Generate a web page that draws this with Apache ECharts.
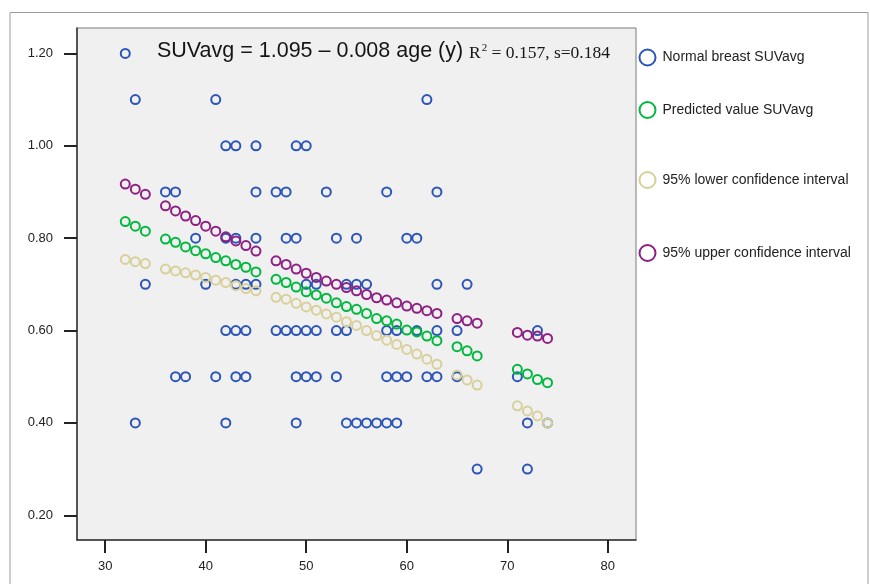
<!DOCTYPE html>
<html>
<head>
<meta charset="utf-8">
<script src="https://cdn.jsdelivr.net/npm/echarts@6/dist/echarts.min.js"></script>
<style>
html,body{margin:0;padding:0;background:#fff;}
#chart{width:870px;height:584px;}
</style>
</head>
<body>
<div id="chart"></div>
<script>
// ---- Data ----
const seriesNames = ['Normal breast SUVavg', 'Predicted value SUVavg', '95% lower confidence interval', '95% upper confidence interval'];

// observed cases (age, SUVavg)
const normalAges = [
  32,
  33, 41, 62,
  42, 43, 45, 49, 50,
  36, 37, 45, 47, 48, 52, 58, 63,
  39, 42, 43, 45, 48, 49, 53, 55, 60, 61,
  34, 40, 43, 44, 45, 50, 51, 54, 55, 56, 63, 66,
  42, 43, 44, 47, 48, 49, 50, 51, 53, 54, 58, 59, 61, 63, 65, 73,
  37, 38, 41, 43, 44, 49, 50, 51, 53, 58, 59, 60, 62, 63, 65, 71,
  33, 42, 49, 54, 55, 56, 57, 58, 59, 72, 74,
  67, 72
];
const normalSUV = [
  1.2,
  1.1, 1.1, 1.1,
  1.0, 1.0, 1.0, 1.0, 1.0,
  0.9, 0.9, 0.9, 0.9, 0.9, 0.9, 0.9, 0.9,
  0.8, 0.8, 0.8, 0.8, 0.8, 0.8, 0.8, 0.8, 0.8, 0.8,
  0.7, 0.7, 0.7, 0.7, 0.7, 0.7, 0.7, 0.7, 0.7, 0.7, 0.7, 0.7,
  0.6, 0.6, 0.6, 0.6, 0.6, 0.6, 0.6, 0.6, 0.6, 0.6, 0.6, 0.6, 0.6, 0.6, 0.6, 0.6,
  0.5, 0.5, 0.5, 0.5, 0.5, 0.5, 0.5, 0.5, 0.5, 0.5, 0.5, 0.5, 0.5, 0.5, 0.5, 0.5,
  0.4, 0.4, 0.4, 0.4, 0.4, 0.4, 0.4, 0.4, 0.4, 0.4, 0.4,
  0.3, 0.3
];

// ages at which fitted values / CIs are shown
const predAges = [32,33,34,36,37,38,39,40,41,42,43,44,45,47,48,49,50,51,52,53,54,55,56,57,58,59,60,61,62,63,65,66,67,71,72,73,74];
const predicted = [0.836,0.826,0.815,0.798,0.791,0.781,0.773,0.766,0.758,0.751,0.743,0.737,0.727,0.711,0.704,0.694,0.684,0.677,0.670,0.660,0.652,0.646,0.637,0.626,0.621,0.614,0.601,0.597,0.588,0.578,0.565,0.556,0.545,0.516,0.506,0.494,0.487];
const lowerCI = [0.754,0.749,0.745,0.733,0.729,0.725,0.720,0.715,0.709,0.704,0.697,0.691,0.686,0.672,0.668,0.659,0.651,0.644,0.636,0.629,0.619,0.611,0.600,0.589,0.579,0.570,0.559,0.549,0.538,0.527,0.504,0.493,0.482,0.437,0.426,0.415,0.400];
const upperCI = [0.917,0.906,0.895,0.870,0.859,0.848,0.838,0.826,0.815,0.803,0.794,0.784,0.772,0.751,0.743,0.733,0.724,0.715,0.707,0.700,0.693,0.686,0.678,0.671,0.666,0.660,0.653,0.648,0.643,0.637,0.626,0.621,0.616,0.596,0.590,0.588,0.583];

const xTicks = [30, 40, 50, 60, 70, 80];
const yTicks = [0.2, 0.4, 0.6, 0.8, 1.0, 1.2];

// ---- Styles ----
const colors = ['#2b55b8', '#00b83e', '#d8d09a', '#8e1f83'];
const FONT = 'Liberation Sans, Arial, Helvetica, sans-serif';
const SERIF = 'Liberation Serif, Times New Roman, serif';

const pairs = (xs, ys) => xs.map((x, i) => [x, ys[i]]);
const seriesData = [
  pairs(normalAges, normalSUV),
  pairs(predAges, predicted),
  pairs(predAges, lowerCI),
  pairs(predAges, upperCI)
];

const chart = echarts.init(document.getElementById('chart'), null, {renderer: 'canvas'});

const legendTops = [48.5, 101, 171, 244];

const option = {
  animation: false,
  backgroundColor: '#ffffff',
  title: [
    {
      text: 'SUVavg = 1.095 \u2013 0.008 age (y)',
      left: 157, top: 40, padding: 0,
      textStyle: {fontFamily: FONT, fontSize: 21.5, fontWeight: 'normal', color: '#151515'}
    },
    {
      text: '{r|R}{s|2}{r| = 0.157, s=0.184}',
      left: 469, top: 42, padding: 0,
      textStyle: {
        fontWeight: 'normal',
        rich: {
          r: {fontFamily: SERIF, fontSize: 17.5, fontWeight: 'normal', color: '#151515', lineHeight: 22},
          s: {fontFamily: SERIF, fontSize: 11, fontWeight: 'normal', color: '#151515', lineHeight: 22, padding: [0, 0, 9, 1]}
        }
      }
    }
  ],
  graphic: [
    {
      type: 'rect', silent: true, z: -10,
      shape: {x: 10, y: 12.5, width: 858, height: 620},
      style: {fill: 'none', stroke: '#9a9a9a', lineWidth: 1}
    }
  ],
  legend: seriesNames.map((name, i) => ({
    data: [name],
    orient: 'vertical',
    left: 638.5,
    top: legendTops[i],
    padding: 0,
    itemWidth: 16,
    itemHeight: 16,
    itemGap: 0,
    icon: 'circle',
    selectedMode: false,
    itemStyle: {color: 'transparent', borderColor: colors[i], borderWidth: 2},
    textStyle: {fontFamily: FONT, fontSize: 14, color: '#222', padding: [0, 0, 0, 2]}
  })),
  grid: {
    left: 77, top: 28, right: 234, bottom: 44,
    show: true,
    backgroundColor: '#f0f0f0',
    borderColor: '#7a7a7a',
    borderWidth: 1
  },
  xAxis: {
    type: 'value',
    min: 27.2, max: 82.8,
    splitLine: {show: false},
    axisLine: {show: true, onZero: false, lineStyle: {color: '#333', width: 1.5}},
    axisTick: {show: true, length: 13, customValues: xTicks, lineStyle: {color: '#222', width: 2}},
    axisLabel: {
      customValues: xTicks, margin: 20,
      fontFamily: FONT, fontSize: 13, color: '#222',
      formatter: v => String(Math.round(v))
    }
  },
  yAxis: {
    type: 'value',
    min: 0.1465, max: 1.255,
    splitLine: {show: false},
    axisLine: {show: true, onZero: false, lineStyle: {color: '#333', width: 1.5}},
    axisTick: {show: true, length: 13, customValues: yTicks, lineStyle: {color: '#222', width: 2}},
    axisLabel: {
      customValues: yTicks, margin: 24,
      fontFamily: FONT, fontSize: 13, color: '#222',
      formatter: v => Number(v).toFixed(2)
    }
  },
  series: seriesNames.map((name, i) => ({
    name: name,
    type: 'scatter',
    symbol: 'circle',
    symbolSize: 9,
    data: seriesData[i],
    itemStyle: {color: 'transparent', borderColor: colors[i], borderWidth: 2, opacity: 1},
    emphasis: {disabled: true}
  }))
};

chart.setOption(option);
</script>
</body>
</html>
